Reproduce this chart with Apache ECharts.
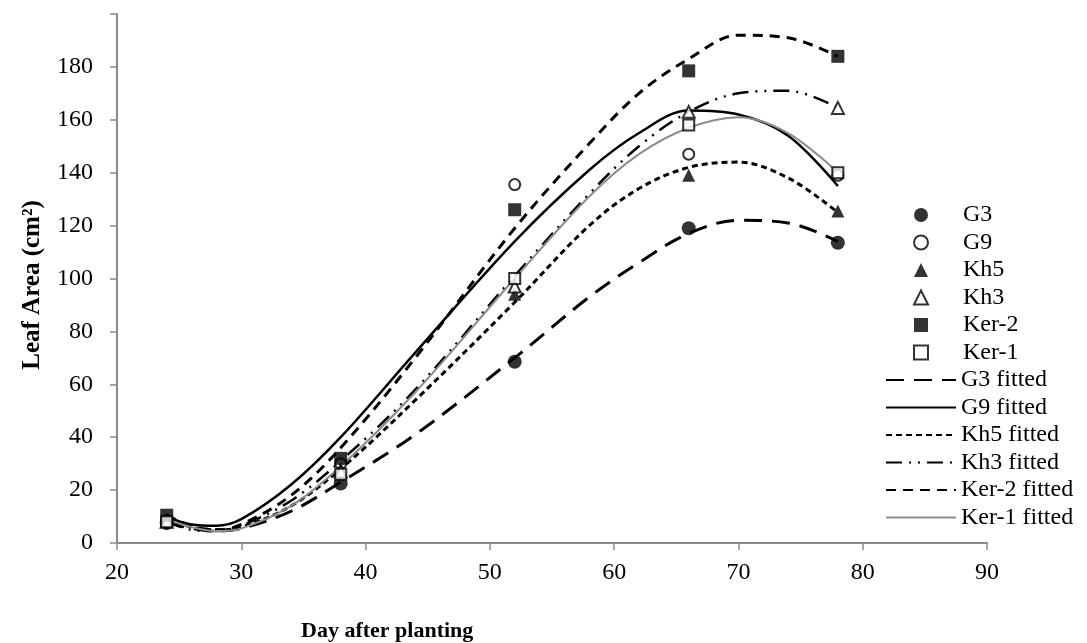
<!DOCTYPE html>
<html>
<head>
<meta charset="utf-8">
<script src="https://cdn.jsdelivr.net/npm/echarts@6/dist/echarts.min.js"></script>
<style>html,body{margin:0;padding:0;background:#fff;}#c{width:1087px;height:643px;}</style>
</head>
<body>
<div id="c"></div>
<script>
// Observed data
const days = [24, 38, 52, 66, 78];
const G3 = [7.5, 22.5, 68.5, 119, 113.5];
const G9 = [8.5, 30, 135.5, 147, 139];
const Kh5 = [9, 28, 94, 139, 125.5];
const Kh3 = [8, 27, 97, 163, 164.5];
const Ker2 = [10.5, 32, 126, 178.5, 184];
const Ker1 = [8, 26, 100, 158, 140];

// Fitted curves
const fitDays = [24, 26, 28, 30, 34, 38, 44, 52, 58, 62, 66, 70, 74, 78];
const G3fit  = [8, 5.5, 4.5, 5.5, 12, 23, 41, 70, 93, 106, 117, 122, 121, 114];
const G9fit  = [10, 7, 6.5, 9, 22, 40, 72, 114, 141, 155, 163.5, 162, 154, 135];
const Kh5fit = [9, 6, 5, 6, 14, 28, 54, 91, 120, 134, 142, 144, 138, 125];
const Kh3fit = [8, 5, 4.5, 6.5, 16, 31, 58, 101, 132, 150, 163, 170, 171, 164.5];
const Ker2fit = [10.5, 6.5, 5, 7, 18, 36, 70, 119, 151, 170, 183, 192, 191, 184];
const Ker1fit = [9, 6, 4.5, 5.5, 14, 29, 57, 100, 131, 147, 157, 161, 155, 140];

const xTicks = [20, 30, 40, 50, 60, 70, 80, 90];
const yTicks = [0, 20, 40, 60, 80, 100, 120, 140, 160, 180];
const markerNames = ['G3', 'G9', 'Kh5', 'Kh3', 'Ker-2', 'Ker-1'];
const fitNames = ['G3 fitted', 'G9 fitted', 'Kh5 fitted', 'Kh3 fitted', 'Ker-2 fitted', 'Ker-1 fitted'];

const pairs = (xs, ys) => xs.map((x, i) => [x, ys[i]]);
const FONT = '"Liberation Serif", "Times New Roman", serif';

function scatter(name, vals, symbol, size, filled) {
  return {
    name, type: 'scatter', data: pairs(days, vals), symbol, symbolSize: size, z: 5,
    itemStyle: filled ? {color: '#000'} : {color: '#fff', borderColor: '#000', borderWidth: 2}
  };
}
function fit(name, vals, color, width, dash) {
  return {
    name, type: 'line', data: pairs(fitDays, vals), smooth: 0.35, symbol: 'none', z: 3,
    lineStyle: {color, width, type: dash},
    itemStyle: {color}
  };
}

const legendText = {fontFamily: FONT, fontSize: 24, lineHeight: 24, color: '#000'};

const chart = echarts.init(document.getElementById('c'));
chart.setOption({
  animation: false,
  backgroundColor: '#fff',
  textStyle: {fontFamily: FONT},
  title: {
    text: 'Day after planting', left: 296, top: 615,
    textStyle: {fontFamily: FONT, fontSize: 22, fontWeight: 'bold', color: '#000'}
  },
  grid: {left: 117, right: 100, top: 14, bottom: 100},
  xAxis: {
    type: 'value', min: 20, max: 90, interval: 10,
    axisLine: {lineStyle: {color: '#8a8a8a', width: 2}},
    axisTick: {show: true, length: 7, lineStyle: {color: '#8a8a8a', width: 1.5}},
    splitLine: {show: false},
    axisLabel: {fontFamily: FONT, fontSize: 24, color: '#000', margin: 18,
      formatter: v => xTicks.includes(v) ? String(v) : ''}
  },
  yAxis: {
    type: 'value', min: 0, max: 200, interval: 20,
    name: 'Leaf Area (cm²)', nameLocation: 'middle', nameGap: 72,
    nameTextStyle: {fontFamily: FONT, fontSize: 25, fontWeight: 'bold', color: '#000', padding: [0, 13, 0, 0]},
    axisLine: {show: true, lineStyle: {color: '#8a8a8a', width: 2}},
    axisTick: {show: true, length: 7, lineStyle: {color: '#8a8a8a', width: 1.5}},
    splitLine: {show: false},
    axisLabel: {fontFamily: FONT, fontSize: 24, color: '#000', margin: 24,
      formatter: v => yTicks.includes(v) ? String(v) : ''}
  },
  legend: [
    {
      orient: 'vertical', left: 908, top: 198, itemWidth: 14, itemHeight: 14, itemGap: 3.5,
      textStyle: Object.assign({padding: [0, 0, 0, 30]}, legendText),
      data: markerNames
    },
    {
      orient: 'vertical', left: 880, top: 363, itemWidth: 70, itemHeight: 14, itemGap: 3.5,
      itemStyle: {opacity: 0},
      textStyle: legendText,
      data: fitNames
    }
  ],
  series: [
    fit('G3 fitted', G3fit, '#000', 3, [18, 10]),
    fit('G9 fitted', G9fit, '#000', 2.5, 'solid'),
    fit('Kh5 fitted', Kh5fit, '#000', 3, [6, 4]),
    fit('Kh3 fitted', Kh3fit, '#000', 2.5, [16, 7, 2, 7, 2, 7]),
    fit('Ker-2 fitted', Ker2fit, '#000', 3, [10, 7]),
    fit('Ker-1 fitted', Ker1fit, '#8c8c8c', 2, 'solid'),
    scatter('G3', G3, 'circle', 14, true),
    scatter('G9', G9, 'circle', 11, false),
    scatter('Kh5', Kh5, 'triangle', 13, true),
    scatter('Kh3', Kh3, 'triangle', 12, false),
    scatter('Ker-2', Ker2, 'rect', 13, true),
    scatter('Ker-1', Ker1, 'rect', 11, false)
  ]
});
</script>
</body>
</html>
